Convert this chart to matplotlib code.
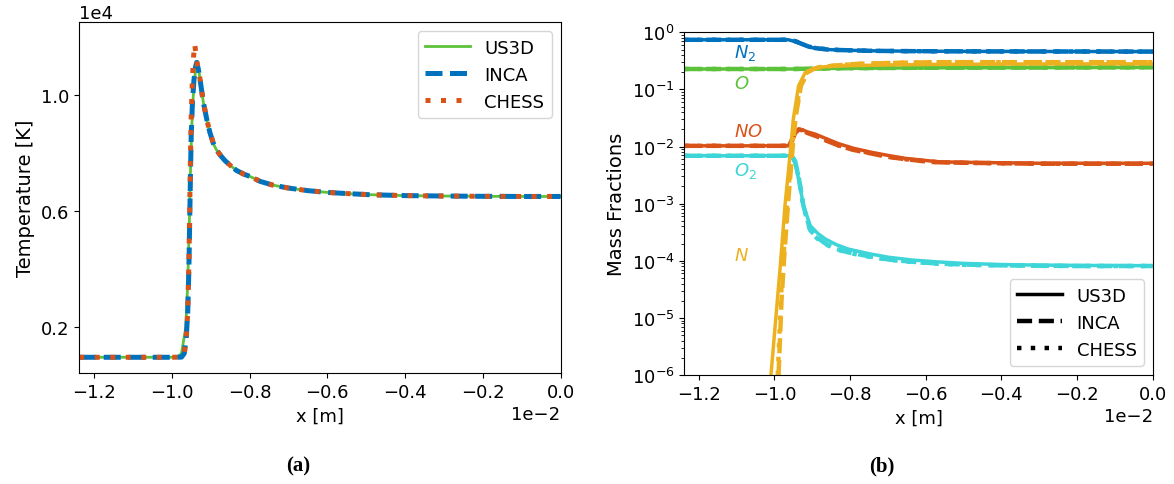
import matplotlib
matplotlib.use("Agg")
import matplotlib.pyplot as plt
from matplotlib.lines import Line2D
import numpy as np

plt.rcParams['font.size'] = 13

# colours
green = '#5CC23A'
blue = '#0072BD'
red = '#D95319'
yellow = '#EDB120'
cyan = '#3DD5D8'

# ---- (a) temperature, x in 1e-2 m, T in K ----
x_t_us3d = [-1.238, -1.10, -1.00, -0.985, -0.975, -0.964, -0.959, -0.955, -0.952, -0.949,
            -0.945, -0.941, -0.937, -0.934, -0.930, -0.927, -0.919, -0.910, -0.902, -0.892,
            -0.885, -0.874, -0.863, -0.848, -0.833, -0.815, -0.799, -0.773, -0.74, -0.70,
            -0.65, -0.60, -0.55, -0.49, -0.40, -0.30, -0.20, -0.10, 0.0]
t_us3d = [970, 970, 970, 985, 1100, 2000, 3500, 5500, 7300, 8800,
          9900, 10600, 11000, 11150, 10800, 10500, 9750, 9150, 8700, 8280,
          8100, 7900, 7730, 7550, 7390, 7270, 7190, 7020, 6890, 6790,
          6700, 6640, 6600, 6560, 6530, 6515, 6505, 6500, 6500]

x_t_inca = [-1.238, -1.10, -1.00, -0.975, -0.968, -0.963, -0.959, -0.956, -0.954, -0.952,
            -0.950, -0.947, -0.943, -0.939, -0.936, -0.932, -0.927, -0.919, -0.910, -0.902,
            -0.892, -0.885, -0.874, -0.863, -0.848, -0.833, -0.815, -0.799, -0.773, -0.74,
            -0.70, -0.65, -0.60, -0.55, -0.49, -0.40, -0.30, -0.20, -0.10, 0.0]
t_inca = [970, 970, 970, 975, 1100, 1600, 2500, 4000, 5600, 7200,
          8600, 9700, 10500, 10950, 11110, 10900, 10500, 9750, 9150, 8700,
          8280, 8100, 7900, 7730, 7550, 7390, 7270, 7190, 7020, 6890,
          6790, 6700, 6640, 6600, 6560, 6530, 6515, 6505, 6500, 6500]

x_t_chess = [-1.238, -1.10, -1.00, -0.975, -0.968, -0.963, -0.959, -0.956, -0.954, -0.952,
             -0.950, -0.947, -0.944, -0.941, -0.937, -0.934, -0.930, -0.927, -0.919, -0.910,
             -0.902, -0.892, -0.885, -0.874, -0.863, -0.848, -0.833, -0.815, -0.799, -0.773,
             -0.74, -0.70, -0.65, -0.60, -0.55, -0.49, -0.40, -0.30, -0.20, -0.10, 0.0]
t_chess = [970, 970, 970, 975, 1100, 1600, 2500, 4200, 6000, 7800,
           9300, 10500, 11300, 11740, 11300, 11000, 10800, 10500, 9750, 9150,
           8700, 8280, 8100, 7900, 7730, 7550, 7390, 7270, 7190, 7020,
           6890, 6790, 6700, 6640, 6600, 6560, 6530, 6515, 6505, 6500, 6500]

# ---- (b) mass fractions, x in 1e-2 m ----
x_n2 = [-1.238, -1.10, -1.00, -0.963, -0.945, -0.928, -0.910, -0.892, -0.86, -0.83,
        -0.75, -0.65, -0.50, -0.30, 0.0]
n2_us3d = [0.74, 0.74, 0.74, 0.74, 0.69, 0.62, 0.56, 0.525, 0.50, 0.49,
           0.475, 0.468, 0.464, 0.462, 0.46]
n2_inca = [0.74, 0.74, 0.74, 0.74, 0.70, 0.63, 0.565, 0.53, 0.50, 0.49,
           0.475, 0.468, 0.464, 0.462, 0.46]
n2_chess = [0.74, 0.74, 0.74, 0.74, 0.70, 0.63, 0.565, 0.53, 0.505, 0.49,
            0.475, 0.468, 0.464, 0.462, 0.46]

x_o = [-1.238, -1.00, -0.95, -0.90, -0.80, -0.60, -0.30, 0.0]
o_us3d = [0.228, 0.228, 0.228, 0.231, 0.235, 0.239, 0.241, 0.243]
o_inca = [0.228, 0.228, 0.228, 0.232, 0.236, 0.240, 0.242, 0.244]
o_chess = [0.228, 0.228, 0.228, 0.232, 0.236, 0.240, 0.242, 0.244]

x_no = [-1.238, -1.10, -1.00, -0.963, -0.954, -0.945, -0.936, -0.925, -0.912, -0.892,
        -0.86, -0.83, -0.79, -0.742, -0.70, -0.653, -0.60, -0.565, -0.50, -0.40,
        -0.30, -0.20, 0.0]
no_us3d = [0.0103, 0.0103, 0.0103, 0.0103, 0.0135, 0.018, 0.0203, 0.0195, 0.018, 0.0165,
           0.0135, 0.0112, 0.0093, 0.0079, 0.0070, 0.0062, 0.0057, 0.0054, 0.0053, 0.0052,
           0.0051, 0.0051, 0.0051]
no_inca = [0.0103, 0.0103, 0.0103, 0.0103, 0.0125, 0.0172, 0.0198, 0.0190, 0.0172, 0.0155,
           0.0125, 0.0104, 0.0087, 0.0075, 0.0066, 0.0060, 0.0055, 0.0053, 0.0052, 0.0051,
           0.0050, 0.0050, 0.0050]
no_chess = [0.0103, 0.0103, 0.0103, 0.0103, 0.0128, 0.0175, 0.0200, 0.0192, 0.0173, 0.0156,
            0.0126, 0.0105, 0.0088, 0.0076, 0.0067, 0.0060, 0.0055, 0.0053, 0.0052, 0.0051,
            0.0050, 0.0050, 0.0050]

x_o2 = [-1.238, -1.10, -1.00, -0.954, -0.945, -0.936, -0.923, -0.905, -0.885, -0.865,
        -0.835, -0.804, -0.75, -0.697, -0.635, -0.573, -0.50, -0.40, -0.30, -0.20, 0.0]
o2_us3d = [0.0069, 0.0069, 0.0069, 0.0069, 0.0050, 0.0027, 9.2e-4, 4.1e-4, 3.0e-4, 2.4e-4,
           1.9e-4, 1.6e-4, 1.33e-4, 1.15e-4, 1.03e-4, 9.6e-5, 9.0e-5, 8.6e-5, 8.4e-5, 8.3e-5, 8.2e-5]
o2_inca = [0.0069, 0.0069, 0.0069, 0.0069, 0.0055, 0.0030, 9.0e-4, 3.4e-4, 2.5e-4, 2.0e-4,
           1.6e-4, 1.4e-4, 1.2e-4, 1.05e-4, 9.6e-5, 9.0e-5, 8.6e-5, 8.3e-5, 8.2e-5, 8.1e-5, 8.1e-5]
o2_chess = [0.0069, 0.0069, 0.0069, 0.0069, 0.0054, 0.0029, 8.8e-4, 3.3e-4, 2.4e-4, 1.95e-4,
            1.58e-4, 1.38e-4, 1.18e-4, 1.04e-4, 9.5e-5, 8.9e-5, 8.5e-5, 8.3e-5, 8.2e-5, 8.1e-5, 8.1e-5]

x_n_us3d = [-1.009, -0.992, -0.985, -0.972, -0.958, -0.950, -0.936, -0.918, -0.900, -0.883,
            -0.85, -0.786, -0.70, -0.58, -0.40, -0.20, 0.0]
n_us3d = [1e-6, 2.1e-5, 7.2e-5, 9.2e-4, 7.9e-3, 0.030, 0.116, 0.20, 0.228, 0.244,
          0.255, 0.262, 0.268, 0.274, 0.278, 0.28, 0.28]
x_n_inca = [-0.989, -0.981, -0.974, -0.963, -0.952, -0.944, -0.930, -0.912, -0.895, -0.88,
            -0.84, -0.786, -0.70, -0.58, -0.40, -0.20, 0.0]
n_inca = [1e-6, 2.1e-5, 1.2e-4, 1.2e-3, 9e-3, 0.032, 0.115, 0.20, 0.23, 0.245,
          0.262, 0.279, 0.29, 0.30, 0.30, 0.30, 0.30]
x_n_chess = [-0.991, -0.983, -0.976, -0.965, -0.954, -0.946, -0.932, -0.914, -0.897, -0.882,
             -0.84, -0.786, -0.70, -0.58, -0.40, -0.20, 0.0]
n_chess = [1e-6, 2.1e-5, 1.2e-4, 1.2e-3, 9e-3, 0.032, 0.115, 0.20, 0.23, 0.245,
           0.262, 0.279, 0.29, 0.30, 0.30, 0.30, 0.30]

species_labels = [r'$N_2$', r'$O$', r'$NO$', r'$O_2$', r'$N$']
label_y = [0.365, 0.1045, 0.0155, 0.00317, 1.04e-4]


def cm(x):
    return np.array(x) * 1e-2


dash = (0, (3.4, 1.5))
dot = (0, (1.0, 2.1))

fig = plt.figure(figsize=(11.74, 4.85), dpi=100)
ax_t = fig.add_axes([0.0675, 0.2289, 0.410, 0.7231])
ax_y = fig.add_axes([0.5829, 0.2247, 0.399, 0.7066])

# (a)
ax_t.plot(cm(x_t_us3d), t_us3d, color=green, lw=2, label='US3D')
ax_t.plot(cm(x_t_inca), t_inca, color=blue, lw=3.6, ls=dash, label='INCA')
ax_t.plot(cm(x_t_chess), t_chess, color=red, lw=3.6, ls=dot, label='CHESS')
ax_t.set_xlim(-1.238e-2, 0)
ax_t.set_ylim(430, 12490)
ax_t.set_yticks([2000, 6000, 10000])
ax_t.ticklabel_format(style='sci', axis='both', scilimits=(0, 0))
ax_t.set_xlabel('x [m]')
ax_t.set_ylabel('Temperature [K]', fontsize=14)
ax_t.legend(loc='upper right', handlelength=2.5)

# (b)
series = [
    (blue, x_n2, n2_us3d, x_n2, n2_inca, x_n2, n2_chess),
    (green, x_o, o_us3d, x_o, o_inca, x_o, o_chess),
    (red, x_no, no_us3d, x_no, no_inca, x_no, no_chess),
    (cyan, x_o2, o2_us3d, x_o2, o2_inca, x_o2, o2_chess),
    (yellow, x_n_us3d, n_us3d, x_n_inca, n_inca, x_n_chess, n_chess),
]
for c, xa, ya, xb, yb, xc, yc in series:
    ax_y.plot(cm(xa), ya, color=c, lw=2.5)
    ax_y.plot(cm(xb), yb, color=c, lw=3.2, ls=dash)
    ax_y.plot(cm(xc), yc, color=c, lw=3.2, ls=dot)

for (c, *_), txt, yv in zip(series, species_labels, label_y):
    ax_y.text(-1.106e-2, yv, txt, color=c, fontsize=13, ha='left', va='baseline')

ax_y.set_yscale('log')
ax_y.set_ylim(1e-6, 1)
ax_y.set_xlim(-1.238e-2, 0)
ax_y.ticklabel_format(style='sci', axis='x', scilimits=(0, 0))
ax_y.set_xlabel('x [m]')
ax_y.set_ylabel('Mass Fractions', fontsize=14)

handles = [Line2D([], [], color='k', lw=2.5),
           Line2D([], [], color='k', lw=3.2, ls=dash),
           Line2D([], [], color='k', lw=3.2, ls=dot)]
ax_y.legend(handles, ['US3D', 'INCA', 'CHESS'], loc='lower right', handlelength=2.5)

fig.text(0.254, 0.039, '(a)', family='Liberation Serif', weight='bold',
         fontsize=15, ha='center', va='center')
fig.text(0.751, 0.039, '(b)', family='Liberation Serif', weight='bold',
         fontsize=15, ha='center', va='center')

fig.savefig('out.png', dpi=100)
